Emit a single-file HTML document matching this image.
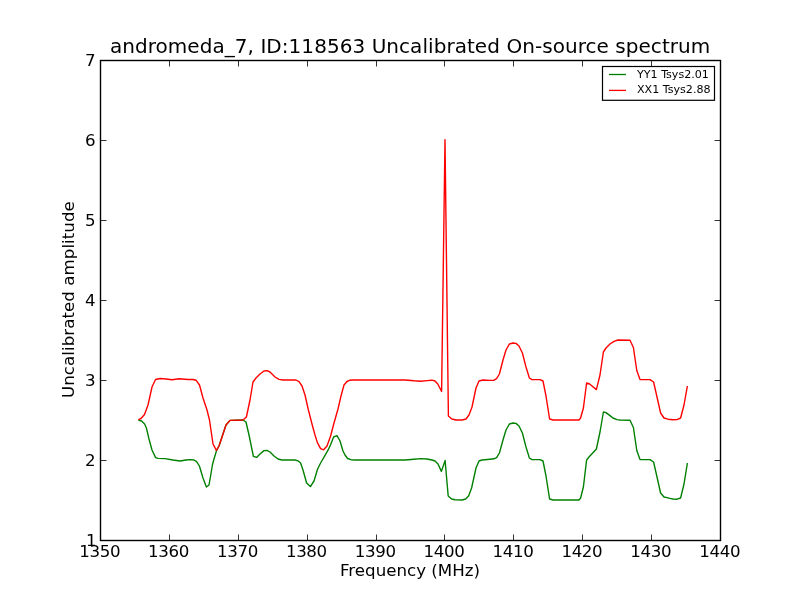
<!DOCTYPE html>
<html><head><meta charset="utf-8"><title>andromeda_7 spectrum</title>
<style>
html,body{margin:0;padding:0;background:#fff}
svg{display:block}
text{font-family:"DejaVu Sans","Liberation Sans",sans-serif;fill:#000}
.t12{font-size:16.67px}
.t14{font-size:20px}
.t8{font-size:11.1px}
</style></head><body>
<svg width="800" height="600" viewBox="0 0 800 600">
<rect width="800" height="600" fill="#fff"/>
<polyline points="138.4,420.0 141.6,421.0 144.6,424.0 146.4,428.0 149.0,439.0 152.0,450.0 155.6,457.6 158.0,458.4 165.0,458.6 173.0,460.0 180.0,461.0 186.0,460.0 190.0,459.6 194.0,460.0 196.6,461.6 199.4,466.0 203.0,478.0 206.4,487.0 209.0,485.0 210.6,476.0 212.4,465.0 214.0,459.0 216.4,451.0 219.0,446.0 226.0,425.0 230.0,420.4 243.0,420.0 246.0,422.0 249.0,435.0 253.4,456.4 256.6,457.4 260.0,454.0 264.0,450.6 267.0,450.4 270.0,452.0 274.0,456.0 278.0,459.0 282.0,460.0 295.0,460.0 298.0,460.8 300.6,463.0 303.0,470.0 306.6,483.0 310.4,486.6 314.0,481.0 317.6,469.0 320.6,463.0 324.3,456.7 328.0,450.2 330.5,445.0 333.6,437.0 337.0,435.6 340.0,441.0 343.0,451.0 345.0,455.0 347.6,458.5 351.0,459.7 355.0,460.0 405.0,460.0 414.0,459.2 421.0,458.6 427.0,459.0 432.0,460.0 435.0,461.0 438.0,464.0 441.4,471.4 445.1,460.5 448.2,496.0 451.6,499.0 455.0,499.8 462.0,500.0 465.6,499.0 468.6,496.0 471.6,488.0 476.0,468.0 479.0,461.0 482.0,460.0 490.0,459.2 494.0,458.8 496.6,457.6 499.4,453.0 503.0,440.0 506.0,430.0 509.4,424.0 513.0,423.0 516.0,423.4 519.0,426.0 522.4,433.0 526.0,447.0 529.4,458.0 532.0,459.6 540.0,459.6 543.0,461.0 546.0,476.0 549.6,499.0 553.0,500.0 579.0,500.0 580.6,498.0 583.4,487.0 586.6,460.0 589.0,457.0 596.4,449.0 600.0,432.0 603.4,412.0 606.0,412.6 610.0,415.6 613.0,418.0 617.0,419.6 620.0,420.0 630.0,420.2 633.4,427.5 636.8,450.5 640.0,459.6 650.0,459.6 653.6,462.0 657.0,477.0 660.6,493.0 664.0,497.0 667.0,497.6 670.0,498.4 673.0,499.0 677.0,499.2 680.6,498.0 684.0,484.0 687.4,463.0" fill="none" stroke="#008000" stroke-width="1.39" stroke-linejoin="round"/>
<polyline points="138.4,419.6 141.0,418.5 144.5,414.5 148.0,405.0 152.0,387.0 155.5,379.5 160.0,378.5 166.0,379.0 172.0,379.8 179.0,378.7 188.0,379.5 193.0,379.5 196.0,380.2 199.5,385.0 203.0,398.0 207.0,410.0 209.5,420.0 213.0,444.0 216.4,450.4 219.0,446.0 226.0,425.0 230.0,420.4 243.0,420.0 246.4,417.0 250.0,400.0 253.0,382.0 256.0,378.0 260.0,374.0 264.0,371.0 267.0,370.6 270.0,372.0 275.0,377.0 279.0,379.4 283.0,380.0 296.0,380.0 299.0,381.6 302.0,386.0 305.0,395.0 308.4,410.0 312.0,424.0 315.0,435.0 317.4,442.6 320.6,448.6 323.6,449.8 327.0,446.0 330.6,436.0 334.0,423.0 338.0,409.0 341.0,396.0 344.0,385.0 347.0,381.5 350.0,380.2 353.0,380.0 405.0,380.0 414.0,380.8 421.0,381.2 427.0,380.6 432.0,380.2 435.0,381.0 437.8,384.0 441.6,391.5 445.0,139.6 448.4,416.0 451.8,419.0 456.0,420.0 462.0,420.0 466.0,419.0 469.0,415.0 472.0,407.0 476.0,388.0 479.0,381.0 483.0,380.0 490.0,380.4 494.0,380.2 496.6,378.6 499.4,374.0 503.0,360.0 506.0,350.0 509.4,344.0 513.0,343.0 516.0,343.4 519.0,346.0 522.4,353.0 526.0,367.0 529.4,378.0 532.0,379.6 540.0,379.6 543.0,381.0 546.0,396.0 549.6,419.0 553.0,420.0 579.0,420.0 580.6,418.0 583.4,408.0 586.6,383.0 589.6,384.0 596.4,389.6 600.0,375.0 603.4,352.0 606.0,348.0 610.0,344.0 614.0,341.4 618.0,340.0 630.0,340.2 633.4,347.5 636.8,370.5 640.0,379.6 650.0,379.6 653.6,382.0 657.0,397.0 660.6,413.0 664.0,418.0 668.0,419.2 673.0,419.8 677.0,419.6 680.6,418.0 684.0,405.0 687.4,386.0" fill="none" stroke="#ff0000" stroke-width="1.39" stroke-linejoin="round"/>
<rect x="100.5" y="60.5" width="620" height="480" fill="none" stroke="#000" stroke-width="1.4"/>
<text x="79.2" y="556.6" textLength="41.3" lengthAdjust="spacing" class="t12">1350</text>
<text x="148.1" y="556.6" textLength="41.3" lengthAdjust="spacing" class="t12">1360</text>
<text x="217.0" y="556.6" textLength="41.3" lengthAdjust="spacing" class="t12">1370</text>
<text x="285.9" y="556.6" textLength="41.3" lengthAdjust="spacing" class="t12">1380</text>
<text x="354.8" y="556.6" textLength="41.3" lengthAdjust="spacing" class="t12">1390</text>
<text x="423.6" y="556.6" textLength="41.3" lengthAdjust="spacing" class="t12">1400</text>
<text x="492.5" y="556.6" textLength="41.3" lengthAdjust="spacing" class="t12">1410</text>
<text x="561.4" y="556.6" textLength="41.3" lengthAdjust="spacing" class="t12">1420</text>
<text x="630.3" y="556.6" textLength="41.3" lengthAdjust="spacing" class="t12">1430</text>
<text x="699.2" y="556.6" textLength="41.3" lengthAdjust="spacing" class="t12">1440</text>
<text x="96.5" y="545.6" text-anchor="end" class="t12">1</text>
<text x="95.6" y="465.6" text-anchor="end" class="t12">2</text>
<text x="95.6" y="385.6" text-anchor="end" class="t12">3</text>
<text x="95.6" y="305.6" text-anchor="end" class="t12">4</text>
<text x="95.6" y="225.6" text-anchor="end" class="t12">5</text>
<text x="95.6" y="145.6" text-anchor="end" class="t12">6</text>
<text x="95.6" y="65.6" text-anchor="end" class="t12">7</text>
<path d="M169.5,540.5v-6M169.5,60.5v6M238.5,540.5v-6M238.5,60.5v6M307.5,540.5v-6M307.5,60.5v6M376.5,540.5v-6M376.5,60.5v6M444.5,540.5v-6M444.5,60.5v6M513.5,540.5v-6M513.5,60.5v6M582.5,540.5v-6M582.5,60.5v6M651.5,540.5v-6M651.5,60.5v6M100.5,460.5h6M720.5,460.5h-6M100.5,380.5h6M720.5,380.5h-6M100.5,300.5h6M720.5,300.5h-6M100.5,220.5h6M720.5,220.5h-6M100.5,140.5h6M720.5,140.5h-6" stroke="#000" stroke-width="0.8" fill="none"/>
<text x="109.9" y="53" textLength="600.4" lengthAdjust="spacing" class="t14">andromeda_7, ID:118563 Uncalibrated On-source spectrum</text>
<text x="410" y="576" text-anchor="middle" class="t12">Frequency (MHz)</text>
<text transform="translate(73.9,398.0) rotate(-90)" textLength="196.8" lengthAdjust="spacing" class="t12">Uncalibrated amplitude</text>
<rect x="602.5" y="66.5" width="112" height="33.8" fill="#fff" stroke="#000" stroke-width="1.2"/>
<path d="M609,74.5h17" stroke="#008000" stroke-width="1.3"/>
<path d="M609,90.4h17" stroke="#ff0000" stroke-width="1.3"/>
<text x="637" y="78" class="t8">YY1 Tsys2.01</text>
<text x="637" y="93.2" class="t8">XX1 Tsys2.88</text>
</svg>
</body></html>
